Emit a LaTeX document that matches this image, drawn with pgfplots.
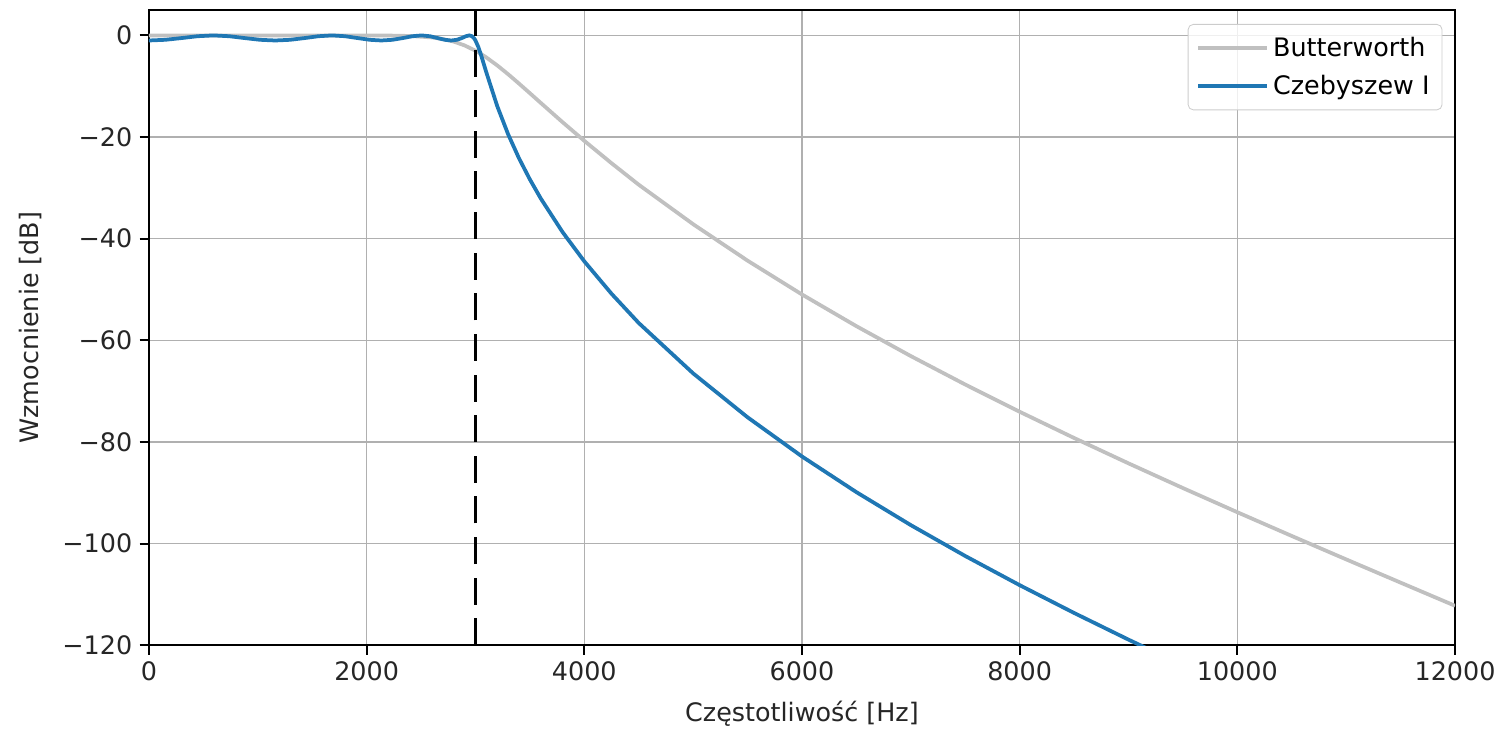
\documentclass[border=0pt]{standalone}
\usepackage{fontspec}
\setmainfont{DejaVu Sans}
\usepackage{pgfplots}
\pgfplotsset{compat=1.18}
\definecolor{mplblue}{HTML}{1F77B4}
\definecolor{silvergray}{HTML}{C0C0C0}
\definecolor{gridgray}{HTML}{B0B0B0}
\newcommand{\fs}{\fontsize{12.2}{14.5}\selectfont}
\begin{document}
\begin{tikzpicture}
\begin{axis}[
  scale only axis, width=627pt, height=305pt,
  xmin=0, xmax=12000, ymin=-120, ymax=5,
  scaled x ticks=false, scaled y ticks=false,
  xtick={0,2000,4000,6000,8000,10000,12000},
  xticklabels={0,2000,4000,6000,8000,10000,12000},
  ytick={-120,-100,-80,-60,-40,-20,0},
  yticklabels={−120,−100,−80,−60,−40,−20,0},
  xtick pos=bottom, ytick pos=left,
  grid=major, major grid style={gridgray, line width=0.6pt},
  axis line style={line width=1pt},
  tick style={black, line width=1pt},
  tick align=outside, major tick length=4.5pt,
  ticklabel style={font=\fs, text=black!85},
  xlabel={Częstotliwość [Hz]}, ylabel={Wzmocnienie [dB]},
  label style={font=\fs, text=black!85},
  x label style={at={(axis description cs:0.5,-0.1072)}, anchor=center},
  y label style={at={(axis description cs:-0.0909,0.5)}, anchor=center, rotate=0},
  legend cell align=left,
  legend style={at={(0.9904,0.978)}, anchor=north east, draw=black!20,
    rounded corners=2.5pt, fill=white, fill opacity=0.8, text opacity=1,
    font=\fs, row sep=3.5pt, inner xsep=4pt, inner ysep=4pt},
  legend image code/.code={\draw[#1] (0pt,0pt) -- (27pt,0pt); \path (27pt,0pt) -- (33pt,0pt);},
]
\addplot[silvergray, line width=1.8pt] coordinates {
(0,0) (1000,0) (1500,0) (2000,-0.006) (2200,-0.028) (2400,-0.112)
(2600,-0.399) (2700,-0.712) (2800,-1.215) (2900,-1.969) (3000,-3.010)
(3050,-3.640) (3100,-4.336) (3200,-5.900) (3300,-7.635) (3400,-9.476)
(3500,-11.370) (3600,-13.280) (3800,-17.067) (4000,-20.740) (4250,-25.140)
(4500,-29.373) (5000,-37.140) (5500,-44.313) (6000,-50.970) (6500,-57.205)
(7000,-63.090) (7500,-68.687) (8000,-74.044) (8500,-79.203) (9000,-84.197)
(9500,-89.057) (10000,-93.811) (10500,-98.482) (11000,-103.092)
(11500,-107.663) (12000,-112.215)
};
\addlegendentry{Butterworth}
\addplot[mplblue, line width=1.8pt] coordinates {
(0,-1.000) (149.1,-0.867) (297.9,-0.529) (445.8,-0.162) (592.6,0.000)
(737.9,-0.162) (881.3,-0.529) (1022.4,-0.867) (1160.8,-1.000)
(1296.3,-0.867) (1428.5,-0.529) (1557.1,-0.162) (1681.7,0.000)
(1802.1,-0.162) (1917.9,-0.529) (2029.0,-0.867) (2135.0,-1.000)
(2235.8,-0.867) (2331.1,-0.529) (2420.7,-0.162) (2504.3,0.000)
(2582.0,-0.162) (2653.3,-0.529) (2718.4,-0.867) (2776.9,-1.000)
(2828.8,-0.867) (2874.0,-0.529) (2912.4,-0.162) (2943.9,0.000)
(2968.4,-0.162) (2986.0,-0.529) (2996.5,-0.867) (3000,-1.000)
(3025,-2.205) (3050,-3.760) (3100,-7.279) (3200,-13.908) (3300,-19.443)
(3400,-24.173) (3500,-28.334) (3600,-32.082) (3800,-38.688) (4000,-44.449)
(4250,-50.820) (4500,-56.578) (5000,-66.492) (5500,-75.132) (6000,-82.841)
(6500,-89.861) (7000,-96.350) (7500,-102.422) (8000,-108.160)
(8500,-113.629) (9000,-118.880) (9500,-123.954)
};
\addlegendentry{Czebyszew I}
\addplot[black, line width=1.1pt, dash pattern=on 13pt off 6.5pt, forget plot] coordinates {(3000,-120) (3000,5)};
\end{axis}
\path ([xshift=-71.5pt,yshift=-40.8pt]current axis.south west) rectangle ([xshift=24pt,yshift=4.8pt]current axis.north east);
\end{tikzpicture}
\end{document}
